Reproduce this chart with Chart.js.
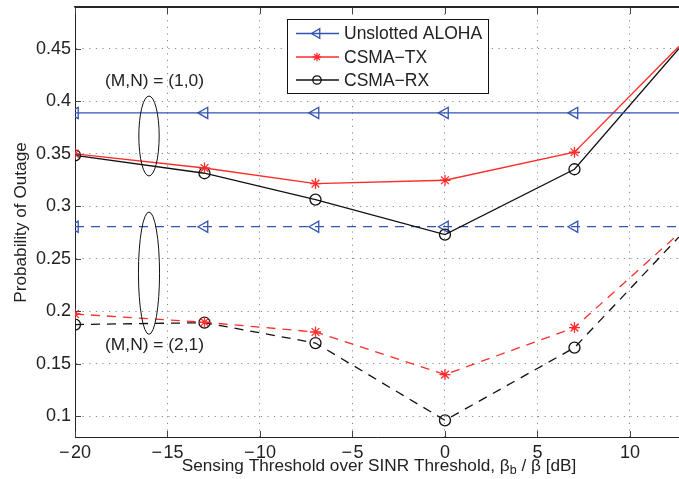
<!DOCTYPE html>
<html>
<head>
<meta charset="utf-8">
<script src="https://cdn.jsdelivr.net/npm/chart.js@4/dist/chart.umd.min.js"></script>
<style>
  html, body { margin: 0; padding: 0; background: #fff; }
  canvas { display: block; }
</style>
</head>
<body>
<canvas id="outage" width="679" height="479"></canvas>
<script>
// sensing threshold over SINR threshold [dB]; last entry is where the curves leave the axes
const thresholds = [-20, -13, -7, 0, 7, 12.65];

// (M,N) = (1,0)
const alohaM10 = [0.389, 0.389, 0.389, 0.389, 0.389, 0.389];
const txM10 = [0.350, 0.3365, 0.3216, 0.3248, 0.3515, 0.4526];
const rxM10 = [0.3486, 0.3315, 0.3064, 0.2730, 0.3353, 0.4504];

// (M,N) = (2,1)
const alohaM21 = [0.2805, 0.2805, 0.2805, 0.2805, 0.2805, 0.2805];
const txM21 = [0.1973, 0.1894, 0.1801, 0.1395, 0.1843, 0.2740];
const rxM21 = [0.1872, 0.1890, 0.1696, 0.0959, 0.1652, 0.2708];

const xTicks = [-20, -15, -10, -5, 0, 5, 10];
const yTicks = [0.1, 0.15, 0.2, 0.25, 0.3, 0.35, 0.4, 0.45];
const seriesNames = ['Unslotted ALOHA', 'CSMA\u2212TX', 'CSMA\u2212RX'];

const BLUE = '#3253b4';
const RED = '#ff2b2b';
const BLACK = '#111111';
const FONT = '"Liberation Sans", Arial, Helvetica, sans-serif';

function pts(ys) {
  return ys.map((y, i) => ({ x: thresholds[i], y: y }));
}
// markers on the sampled points only, not on the clipped end
const markR = r => thresholds.map((_, i) => i === thresholds.length - 1 ? 0 : r);

function series(label, ys, color, style, radius, dashed) {
  return {
    label: label,
    data: pts(ys),
    borderColor: color,
    borderWidth: 1.3,
    borderDash: dashed ? [9, 7] : [],
    pointStyle: style,
    pointRotation: style === 'triangle' ? -90 : 0,
    pointRadius: markR(radius),
    pointBorderColor: color,
    pointBorderWidth: 1.3,
    pointBackgroundColor: 'rgba(0,0,0,0)',
    tension: 0
  };
}

const datasets = [
  series(seriesNames[0], alohaM10, BLUE, 'triangle', 6.5, false),
  series(seriesNames[1], txM10, RED, 'star', 5.5, false),
  series(seriesNames[2], rxM10, BLACK, 'circle', 5.5, false),
  series(seriesNames[0], alohaM21, BLUE, 'triangle', 6.5, true),
  series(seriesNames[1], txM21, RED, 'star', 5.5, true),
  series(seriesNames[2], rxM21, BLACK, 'circle', 5.5, true)
];

// ellipses grouping the curves of each (M,N) case, in data units
const groups = [
  { x: -16, y: 0.367, rx: 0.55, ry: 0.0381 },
  { x: -16, y: 0.2362, rx: 0.57, ry: 0.0583 }
];
const notes = [
  { text: '(M,N) = (1,0)', x: -15.7, y: 0.4192 },
  { text: '(M,N) = (2,1)', x: -15.7, y: 0.1674 }
];

const decorations = {
  id: 'decorations',
  afterDatasetsDraw(chart) {
    const { ctx, chartArea: a, scales: { x, y } } = chart;
    ctx.save();
    // inward tick marks
    ctx.lineWidth = 1;
    ctx.strokeStyle = '#444';
    ctx.beginPath();
    xTicks.forEach(v => {
      const px = Math.round(x.getPixelForValue(v)) + 0.5;
      ctx.moveTo(px, a.bottom); ctx.lineTo(px, a.bottom - 6);
      ctx.moveTo(px, a.top); ctx.lineTo(px, a.top + 7);
    });
    yTicks.forEach(v => {
      const py = Math.round(y.getPixelForValue(v)) + 0.5;
      ctx.moveTo(a.left, py); ctx.lineTo(a.left + 6, py);
    });
    ctx.stroke();

    // group ellipses
    ctx.strokeStyle = BLACK;
    ctx.lineWidth = 1;
    groups.forEach(g => {
      const cx = x.getPixelForValue(g.x);
      const cy = y.getPixelForValue(g.y);
      const rx = Math.abs(x.getPixelForValue(g.x + g.rx) - cx);
      const ry = Math.abs(y.getPixelForValue(g.y + g.ry) - cy);
      ctx.beginPath();
      ctx.ellipse(cx, cy, rx, ry, 0, 0, Math.PI * 2);
      ctx.stroke();
    });

    // case labels
    ctx.fillStyle = '#222';
    ctx.font = '17.4px ' + FONT;
    ctx.textAlign = 'center';
    ctx.textBaseline = 'middle';
    notes.forEach(n => {
      ctx.fillText(n.text, x.getPixelForValue(n.x), y.getPixelForValue(n.y));
    });
    ctx.restore();
  },
  afterDraw(chart) {
    const { ctx, chartArea: a } = chart;
    ctx.save();

    // top box edge
    ctx.fillStyle = '#262626';
    ctx.fillRect(a.left, Math.round(a.top) - 1, a.right - a.left, 2);

    // legend box
    const bx = 287, by = 19, bw = 201, bh = 74;
    ctx.fillStyle = '#fff';
    ctx.fillRect(bx, by, bw, bh);
    ctx.strokeStyle = '#111';
    ctx.lineWidth = 1;
    ctx.strokeRect(bx + 0.5, by + 0.5, bw, bh);
    const rows = [33.5, 57, 80];
    ctx.font = '17.5px ' + FONT;
    ctx.textAlign = 'left';
    ctx.textBaseline = 'middle';
    for (let i = 0; i < 3; i++) {
      const ds = chart.data.datasets[i];
      const ry = rows[i];
      ctx.strokeStyle = ds.borderColor;
      ctx.lineWidth = ds.borderWidth;
      ctx.beginPath();
      ctx.moveTo(296, ry);
      ctx.lineTo(339, ry);
      ctx.stroke();
      ctx.fillStyle = 'rgba(0,0,0,0)';
      Chart.helpers.drawPoint(ctx, {
        pointStyle: ds.pointStyle,
        rotation: ds.pointRotation,
        radius: ds.pointStyle === 'triangle' ? 5.5 : 4.2,
        borderWidth: 1.3
      }, 317, ry);
      ctx.fillStyle = '#222';
      ctx.fillText(ds.label, 344, ry + 1);
    }

    // y axis title
    ctx.fillStyle = '#222';
    ctx.font = '17.2px ' + FONT;
    ctx.textAlign = 'center';
    ctx.textBaseline = 'alphabetic';
    ctx.translate(26, 222.5);
    ctx.rotate(-Math.PI / 2);
    ctx.fillText('Probability of Outage', 0, 0);
    ctx.setTransform(1, 0, 0, 1, 0, 0);

    // x axis title with subscript
    const main = '17.2px ' + FONT, sub = '12.5px ' + FONT;
    const parts = [
      { t: 'Sensing Threshold over SINR Threshold, \u03b2', f: main, dy: 0 },
      { t: 'b', f: sub, dy: 3 },
      { t: ' / \u03b2 [dB]', f: main, dy: 0 }
    ];
    let total = 0;
    parts.forEach(p => { ctx.font = p.f; p.w = ctx.measureText(p.t).width; total += p.w; });
    let cx = 379 - total / 2;
    ctx.textAlign = 'left';
    parts.forEach(p => {
      ctx.font = p.f;
      ctx.fillText(p.t, cx, 471 + p.dy);
      cx += p.w;
    });
    ctx.restore();
  }
};

const fmtX = v => (v < 0 ? '\u2212\u200a' + Math.abs(v) : String(v));
const fmtY = v => String(Number(v.toFixed(2)));

// keep the plot box fixed: no extra room reserved for edge labels
function noEdgePad(s) {
  s.paddingTop = 0; s.paddingBottom = 0;
  s.paddingLeft = 0; s.paddingRight = 0;
}

new Chart(document.getElementById('outage'), {
  type: 'line',
  data: { datasets: datasets },
  options: {
    responsive: false,
    animation: false,
    devicePixelRatio: 1,
    layout: { autoPadding: false, padding: { left: 0, right: 0, top: 7, bottom: 0 } },
    plugins: {
      legend: { display: false },
      tooltip: { enabled: false }
    },
    scales: {
      x: {
        type: 'linear',
        min: -20,
        max: 12.65,
        afterBuildTicks: s => { s.ticks = xTicks.map(v => ({ value: v })); },
        afterFit: s => { s.height = 42; noEdgePad(s); },
        ticks: {
          callback: fmtX,
          color: '#222',
          padding: 5,
          maxRotation: 0,
          font: { family: FONT, size: 18 }
        },
        grid: { color: 'rgba(40,40,40,0.55)', lineWidth: 1, drawTicks: false },
        border: { display: true, color: '#222', width: 1, dash: [1.2, 5.4] }
      },
      // box edge along the top of the plot
      xTop: {
        type: 'linear',
        position: 'top',
        min: -20,
        max: 12.65,
        ticks: { display: false },
        grid: { display: false, drawTicks: false },
        border: { display: true, color: '#262626', width: 1.5 },
        afterFit: s => { s.height = 0; noEdgePad(s); }
      },
      y: {
        type: 'linear',
        min: 0.08,
        max: 0.49,
        afterBuildTicks: s => { s.ticks = yTicks.map(v => ({ value: v })); },
        afterFit: s => { s.width = 75; noEdgePad(s); },
        ticks: {
          callback: fmtY,
          color: '#222',
          padding: 4,
          font: { family: FONT, size: 18 }
        },
        grid: { color: 'rgba(40,40,40,0.55)', lineWidth: 1, drawTicks: false },
        border: { display: true, color: '#222', width: 1, dash: [1.2, 5.4] }
      }
    }
  },
  plugins: [decorations]
});
</script>
</body>
</html>
